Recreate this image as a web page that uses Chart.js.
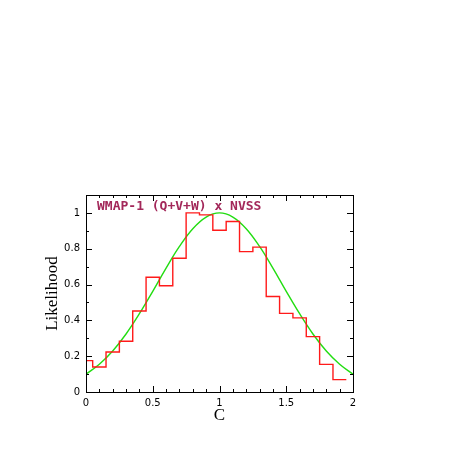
<!DOCTYPE html>
<html>
<head>
<meta charset="utf-8">
<script src="https://cdn.jsdelivr.net/npm/chart.js@4"></script>
<style>
  body { margin: 0; background: #fff; }
  canvas { display: block; }
</style>
</head>
<body>
<canvas id="chart" width="463" height="463"></canvas>
<script>
// histogram: left bin edges in C and likelihood per bin (last entry closes the final bin)
const binEdges = [0, 0.05, 0.15, 0.25, 0.35, 0.45, 0.55, 0.65, 0.75, 0.85, 0.95, 1.05, 1.15, 1.25, 1.35, 1.45, 1.55, 1.65, 1.75, 1.85, 1.95];
const binLikelihood = [0.175, 0.14, 0.223, 0.283, 0.452, 0.641, 0.593, 0.747, 1.0, 0.989, 0.903, 0.952, 0.784, 0.809, 0.533, 0.439, 0.414, 0.309, 0.154, 0.069, 0.069];

// smooth fit curve
const curveC = [0, 0.1, 0.2, 0.3, 0.4, 0.5, 0.6, 0.7, 0.8, 0.9, 1.0, 1.1, 1.2, 1.3, 1.4, 1.5, 1.6, 1.7, 1.8, 1.9, 2.0];
const curveL = [0.10, 0.155, 0.229, 0.324, 0.437, 0.562, 0.692, 0.813, 0.912, 0.977, 1.0, 0.977, 0.912, 0.813, 0.692, 0.562, 0.437, 0.324, 0.229, 0.155, 0.10];

const xTickLabels = [0, 0.5, 1, 1.5, 2];
const yTickLabels = [0, 0.2, 0.4, 0.6, 0.8, 1];

const labelText = 'WMAP-1 (Q+V+W) x NVSS';

// frame + inward ticks on all four sides, plus the in-plot label
const framePlugin = {
    id: 'frame',
    afterDraw(chart) {
        const ctx = chart.ctx;
        const a = chart.chartArea;
        const xs = chart.scales.x, ys = chart.scales.y;
        ctx.save();
        ctx.strokeStyle = '#000';
        ctx.lineWidth = 1;
        ctx.beginPath();
        for (let i = 0; i <= 20; i++) {
            const v = i / 10;
            const len = (i % 5 === 0) ? 6 : 3;
            const px = Math.round(xs.getPixelForValue(v)) + 0.5;
            ctx.moveTo(px, a.bottom); ctx.lineTo(px, a.bottom - len);
            ctx.moveTo(px, a.top); ctx.lineTo(px, a.top + len);
        }
        for (let i = 0; i <= 11; i++) {
            const v = i / 10;
            const len = (i % 2 === 0) ? 6 : 3;
            const py = Math.round(ys.getPixelForValue(v)) + 0.5;
            ctx.moveTo(a.left, py); ctx.lineTo(a.left + len, py);
            ctx.moveTo(a.right, py); ctx.lineTo(a.right - len, py);
        }
        ctx.stroke();
        ctx.strokeRect(Math.round(a.left) + 0.5, Math.round(a.top) + 0.5,
            Math.round(a.right - a.left), Math.round(a.bottom - a.top));

        ctx.fillStyle = '#a3285a';
        ctx.font = 'bold 13px "DejaVu Sans Mono", monospace';
        ctx.textBaseline = 'alphabetic';
        ctx.fillText(labelText, 97, 210);
        ctx.restore();
    }
};

new Chart(document.getElementById('chart'), {
    type: 'line',
    data: {
        datasets: [
            {
                data: binEdges.map((c, i) => ({ x: c, y: binLikelihood[i] })),
                borderColor: '#ff1a1a',
                borderWidth: 1.4,
                stepped: 'before',
                pointRadius: 0,
                fill: false
            },
            {
                data: curveC.map((c, i) => ({ x: c, y: curveL[i] })),
                borderColor: '#22dd11',
                borderWidth: 1.4,
                tension: 0.4,
                pointRadius: 0,
                fill: false
            }
        ]
    },
    options: {
        responsive: false,
        animation: false,
        layout: { padding: { left: 0, top: 195, right: 110, bottom: 0 } },
        plugins: { legend: { display: false }, tooltip: { enabled: false } },
        scales: {
            x: {
                type: 'linear',
                min: 0, max: 2,
                afterBuildTicks: s => { s.ticks = xTickLabels.map(v => ({ value: v })); },
                afterFit: s => { s.height = 71; },
                grid: { display: false, drawTicks: false },
                border: { display: false },
                ticks: {
                    padding: 5,
                    color: '#000',
                    font: { family: 'DejaVu Sans', size: 10 },
                    maxRotation: 0,
                    callback: v => String(v)
                },
                title: {
                    display: true,
                    text: 'C',
                    color: '#000',
                    font: { family: 'Liberation Serif', size: 17 },
                    padding: { top: 0, bottom: 37 }
                }
            },
            y: {
                type: 'linear',
                min: 0, max: 1.1,
                afterBuildTicks: s => { s.ticks = yTickLabels.map(v => ({ value: v })); },
                afterFit: s => { s.width = 86; },
                grid: { display: false, drawTicks: false },
                border: { display: false },
                ticks: {
                    padding: 6,
                    color: '#000',
                    font: { family: 'DejaVu Sans', size: 10 },
                    callback: v => String(v)
                },
                title: {
                    display: true,
                    text: 'Likelihood',
                    color: '#000',
                    font: { family: 'Liberation Serif', size: 17 },
                    padding: { top: 42, bottom: 0 }
                }
            }
        }
    },
    plugins: [framePlugin]
});
</script>
</body>
</html>
